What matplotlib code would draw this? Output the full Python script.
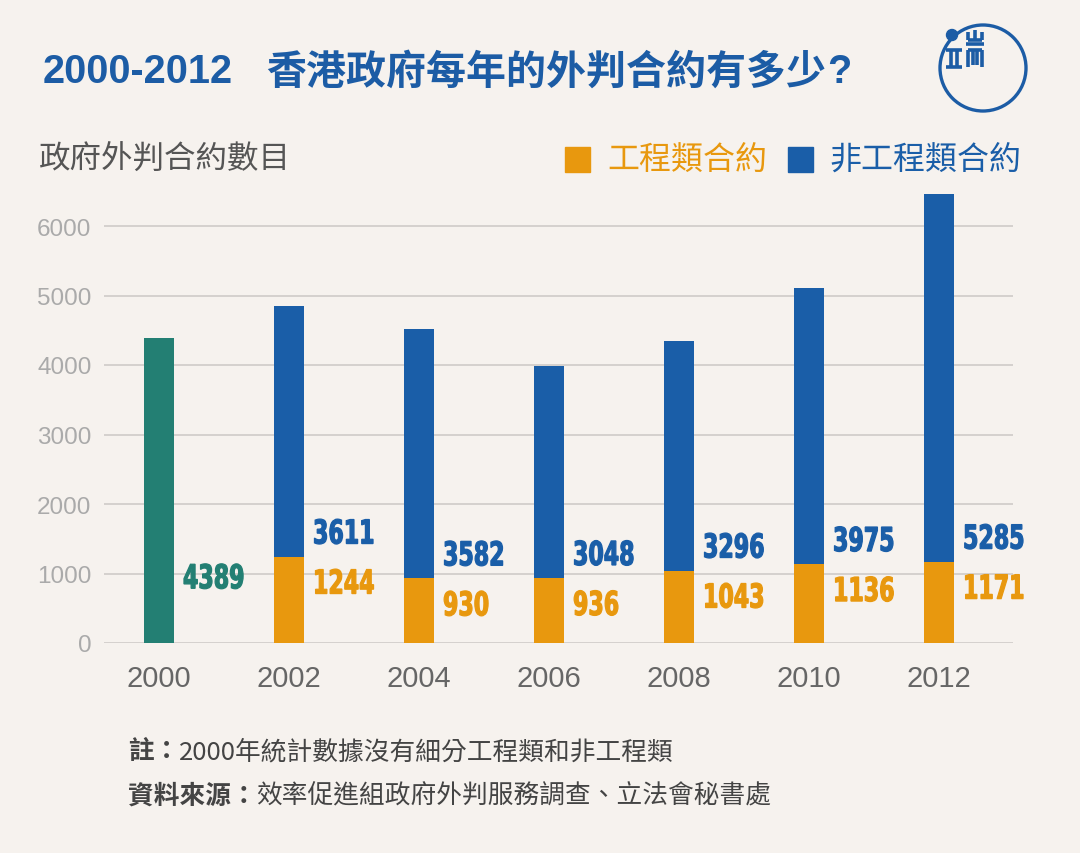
import numpy as np
import matplotlib.pyplot as plt
from matplotlib.patches import Circle, Rectangle, PathPatch
from matplotlib.lines import Line2D
from matplotlib.textpath import TextPath
from matplotlib.font_manager import FontProperties
import matplotlib.transforms as mtransforms

years = ['2000', '2002', '2004', '2006', '2008', '2010', '2012']
total_2000 = 4389
eng = [1244, 930, 936, 1043, 1136, 1171]
non_eng = [3611, 3582, 3048, 3296, 3975, 5285]
yticks = [0, 1000, 2000, 3000, 4000, 5000, 6000]

bg = '#f6f2ee'
orange = '#e8980e'
blue = '#1a5ea8'
green = '#237f73'
cjk = ['Noto Sans CJK TC', 'DejaVu Sans']
latin = ['Liberation Sans', 'DejaVu Sans']

fig = plt.figure(figsize=(10.8, 8.54), dpi=100)
fig.patch.set_facecolor(bg)

W, H = 1080, 854
# axes in pixel terms: gridlines 104..1013, y=0 at 644, top at 180
ax = fig.add_axes([104 / W, (H - 644) / H, (1013 - 104) / W, (644 - 180) / H])
ax.set_facecolor(bg)
ax.set_xlim(-0.423, 6.569)
ax.set_ylim(0, (644 - 180) / 69.5 * 1000)

x = np.arange(len(years))
w = 0.23
ax.bar(x[0], total_2000, width=w, color=green, zorder=3)
ax.bar(x[1:], eng, width=w, color=orange, zorder=3)
ax.bar(x[1:], non_eng, width=w, bottom=eng, color=blue, zorder=3)

for v in yticks:
    ax.axhline(v, color='#cfcbc8', lw=1.2, zorder=1)

ax.set_yticks(yticks)
ax.set_yticklabels([str(v) for v in yticks], fontsize=17.5, color='#aaaaaa', family=latin)
ax.set_xticks(x)
ax.set_xticklabels(years, fontsize=21, color='#666666', family=latin)
ax.tick_params(length=0)
ax.tick_params(axis='y', pad=9)
ax.tick_params(axis='x', pad=15)
for s in ax.spines.values():
    s.set_visible(False)

# condensed heavy value labels: DejaVu Sans Bold squeezed horizontally
num_prop = FontProperties(family='DejaVu Sans', weight='bold')
em = 33.0
sx = 0.67
cap = 0.729 * em


def value_label(xd, yd, s, color, dy):
    tp = TextPath((0, 0), s, size=em, prop=num_prop)
    tr = (mtransforms.Affine2D().scale(sx, 1.0).translate(24, dy - cap / 2)
          + mtransforms.ScaledTranslation(xd, yd, ax.transData))
    fig.add_artist(PathPatch(tp, transform=tr, fc=color, ec=color, lw=0.9))


value_label(x[0], 960, str(total_2000), green, 0)
for i in range(len(eng)):
    value_label(x[i + 1], eng[i], str(non_eng[i]), blue, 25)
    value_label(x[i + 1], eng[i], str(eng[i]), orange, -25)

# overlay in pixel coords for title, legend, notes, logo
ov = fig.add_axes([0, 0, 1, 1], facecolor='none')
ov.set_xlim(0, W)
ov.set_ylim(H, 0)
ov.axis('off')

title_color = '#1c5ca5'
ov.text(43, 72, '2000-2012', fontsize=28.5, fontweight='bold', color=title_color,
        family=latin, va='center', ha='left')
ov.text(266, 72, '香港政府每年的外判合約有多少', fontsize=28.8, fontweight='black',
        color=title_color, family=cjk, va='center', ha='left')
ov.text(827, 72, '?', fontsize=28.5, fontweight='bold', color=title_color,
        family=latin, va='center', ha='left')

ov.text(39, 160, '政府外判合約數目', fontsize=22.7, color='#555555', family=cjk,
        va='center', ha='left')

ov.add_patch(Rectangle((565, 148), 25, 25, color=orange))
ov.text(607, 160, '工程類合約', fontsize=23, color=orange, family=cjk, va='center', ha='left')
ov.add_patch(Rectangle((788, 148), 25, 25, color=blue))
ov.text(829, 160, '非工程類合約', fontsize=23, color=blue, family=cjk, va='center', ha='left')

note_c = '#444444'
ov.text(128, 752, '註：', fontsize=18.5, fontweight='bold', color=note_c, family=cjk,
        va='center', ha='left')
ov.text(179, 752, '2000年統計數據沒有細分工程類和非工程類', fontsize=18.5, color=note_c,
        family=cjk, va='center', ha='left')
ov.text(128, 796, '資料來源：', fontsize=18.5, fontweight='bold', color=note_c, family=cjk,
        va='center', ha='left')
ov.text(256, 796, '效率促進組政府外判服務調查、立法會秘書處', fontsize=18.5, color=note_c,
        family=cjk, va='center', ha='left')

# logo
lc = '#1c5ca5'
ov.add_patch(Circle((983, 69), 43, fill=False, ec=lc, lw=2.4))
ov.add_patch(Circle((952, 36), 5.5, color=lc))
segs = [
    [(946, 51), (962, 51)], [(946, 68), (962, 68)],
    [(951, 51), (951, 68)], [(957, 51), (957, 68)],
    [(968, 33), (968, 41)], [(975, 31), (975, 41)], [(982, 33), (982, 41)],
    [(968, 41), (982, 41)],
    [(966, 45), (984, 45)], [(968, 51), (982, 51)],
    [(968, 51), (968, 68)], [(973, 51), (973, 66)], [(977, 51), (977, 66)],
    [(982, 51), (982, 68)],
]
for (x0, y0), (x1, y1) in segs:
    ov.add_line(Line2D([x0, x1], [y0, y1], color=lc, lw=2.6, solid_capstyle='butt'))

fig.savefig('out.png', dpi=100, facecolor=bg)
